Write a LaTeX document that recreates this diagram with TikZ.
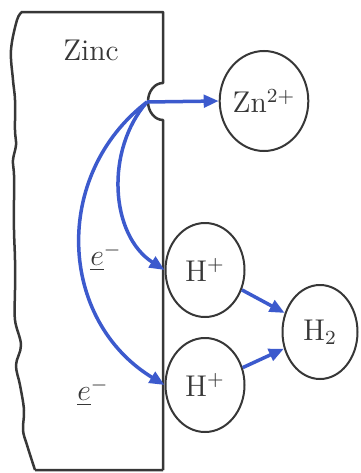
\documentclass[tikz,border=0pt]{standalone}
\usetikzlibrary{arrows.meta, positioning, shapes.geometric}

\definecolor{flowblue}{RGB}{60,90,205}
\definecolor{ink}{RGB}{55,55,55}

\tikzset{
  ion/.style={ellipse, draw=ink, line width=0.8pt, inner sep=0pt, text=ink, font=\large},
  flow/.style={draw=flowblue, line width=1.4pt, -{Triangle[length=6pt,width=5pt]}},
  elabel/.style={text=ink, font=\large}
}

\begin{document}
\begin{tikzpicture}[x=0.4pt, y=-0.4pt]
      \useasboundingbox (0,0) rectangle (360,473);

      % zinc plate with wavy edge and pit
      \draw[ink, line width=1pt, line join=round]
        (163,470) -- (35,470)
        plot[smooth, tension=0.6] coordinates {(35,470) (27,445) (23,430) (24,410) (20,385) (16,365) (21,345) (15,320) (15,290) (15,260) (14,230) (14,200) (14,175) (13,160) (16,145) (15,130) (15,100) (13,80) (11,50) (17,20) (22,12)}
        -- (163,12) -- (163,83) arc[start angle=270, end angle=90, x radius=15, y radius=18.5] -- (163,470);
      \node[text=ink, font=\large] (zinc) at (91,50) {Zinc};

      \coordinate (pit) at (147,102);

      % ions and molecule
      \node[ion, minimum width=34pt, minimum height=40pt] (zn) at (264,101) {Zn$^{2+}$};
      \node[ion, minimum width=31.6pt, minimum height=37.6pt] (hup) at (205,270) {H$^+$};
      \node[ion, minimum width=31.6pt, minimum height=37.6pt] (hlo) at (205,385) {H$^+$};
      \node[ion, minimum width=30pt, minimum height=37.6pt] (h2) at (320,332) {H$_2$};

      \draw[flow] (pit) -- (zn.west);
      \draw[flow] (pit) .. controls (105,150) and (110,235) .. (hup.west);
      \draw[flow] (pit) .. controls (52,175) and (58,320) .. (hlo.west);
      \draw[flow] (hup) -- (h2);
      \draw[flow] (hlo) -- (h2);

      \node[elabel] (eup) at (106,257) {$\underline{e}^-$};
      \node[elabel] (elo) at (93,392) {$\underline{e}^-$};
    \end{tikzpicture}
\end{document}
